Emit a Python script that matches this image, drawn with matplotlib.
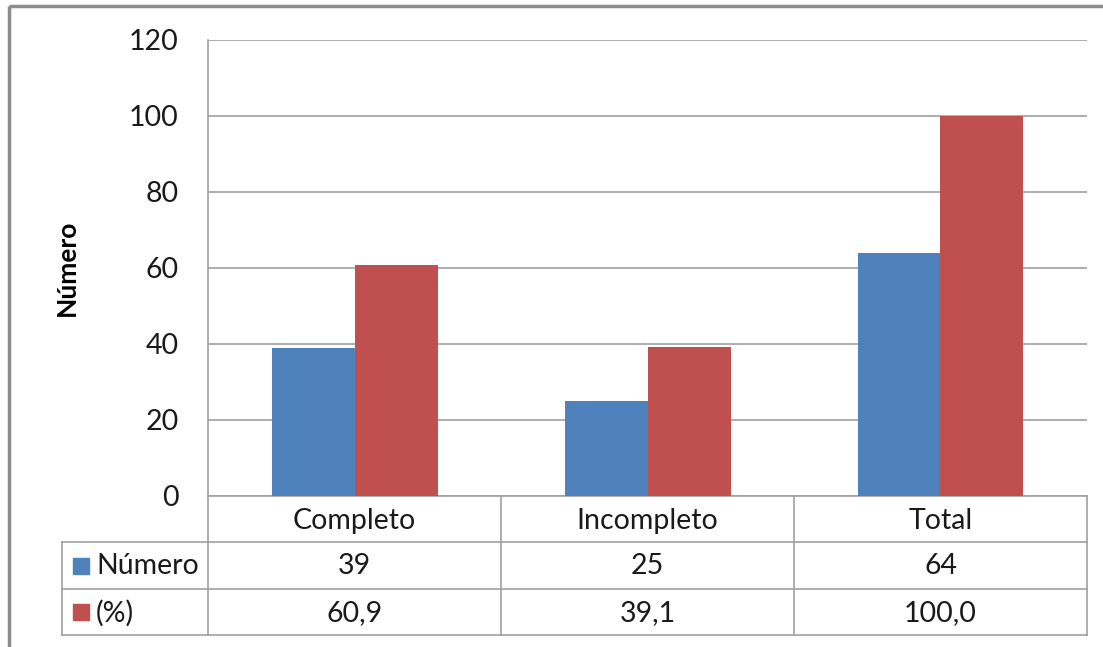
import matplotlib
matplotlib.use("Agg")
import matplotlib.pyplot as plt
from matplotlib.patches import Rectangle
import numpy as np

categories = ["Completo", "Incompleto", "Total"]
series_names = ["Número", "(%)"]
numero = [39, 25, 64]
porcentaje = [60.9, 39.1, 100.0]
numero_labels = ["39", "25", "64"]
porcentaje_labels = ["60,9", "39,1", "100,0"]
yticks = [0, 20, 40, 60, 80, 100, 120]

BLUE = "#4F81BD"
RED = "#C0504D"
GRID = "#A0A0A0"
TXT = "#1A1A1A"
FONT = ["Lato", "DejaVu Sans"]
plt.rcParams["font.family"] = FONT

W, H = 1103, 647
fig = plt.figure(figsize=(W / 100, H / 100), dpi=100)

# overlay axes in pixel coords (for table + border)
ov = fig.add_axes([0, 0, 1, 1], zorder=0)
ov.set_xlim(0, W)
ov.set_ylim(H, 0)
ov.axis("off")

L, R, T, B = 208, 1087, 40, 496
ax = fig.add_axes([L / W, (H - B) / H, (R - L) / W, (B - T) / H], zorder=2)
ax.patch.set_alpha(0)

x = np.arange(len(categories))
w = 83 / 293
ax.bar(x - w / 2, numero, w, color=BLUE, zorder=3)
ax.bar(x + w / 2, porcentaje, w, color=RED, zorder=3)
ax.set_xlim(-0.5, len(categories) - 0.5)
ax.set_ylim(0, 120)
ax.set_yticks(yticks)
ax.set_yticklabels([str(v) for v in yticks], fontsize=20.5, color=TXT)
ax.tick_params(axis="y", length=0, pad=21)
ax.set_xticks([])
ax.yaxis.grid(True, color=GRID, linewidth=1.2)
ax.set_axisbelow(True)
for s in ["top", "right", "bottom"]:
    ax.spines[s].set_visible(False)
ax.spines["left"].set_color(GRID)
ax.spines["left"].set_linewidth(1.2)
ax.set_ylabel("Número", fontsize=19, fontweight="bold", labelpad=36, color="#000000")

# data table
TL = 62
col_edges = [L + i * (R - L) / 3 for i in range(4)]
row_edges = [B, 542, 589, 635]
lc = GRID
lw = 1.2
# vertical lines
ov.plot([L, L], [B, row_edges[-1]], color=lc, lw=lw)
for xe in col_edges[1:]:
    ov.plot([xe, xe], [B, row_edges[-1]], color=lc, lw=lw)
ov.plot([TL, TL], [row_edges[1], row_edges[-1]], color=lc, lw=lw)
# horizontal lines
ov.plot([L, R], [B, B], color=lc, lw=lw)
for ye in row_edges[1:]:
    ov.plot([TL, R], [ye, ye], color=lc, lw=lw)

fs = 20.5
for i, c in enumerate(categories):
    cx = (col_edges[i] + col_edges[i + 1]) / 2
    ov.text(cx, (row_edges[0] + row_edges[1]) / 2 + 2, c, ha="center", va="center", fontsize=fs, color=TXT)
    ov.text(cx, (row_edges[1] + row_edges[2]) / 2 + 1, numero_labels[i], ha="center", va="center", fontsize=fs, color=TXT)
    ov.text(cx, (row_edges[2] + row_edges[3]) / 2 + 1, porcentaje_labels[i], ha="center", va="center", fontsize=fs, color=TXT)

for j, (name, col) in enumerate(zip(series_names, [BLUE, RED])):
    yc = (row_edges[j + 1] + row_edges[j + 2]) / 2
    ov.add_patch(Rectangle((73, yc - 8), 16, 16, color=col))
    ov.text(96, yc + 1, name, ha="left", va="center", fontsize=fs, color=TXT)

# outer border of chart area
ov.add_patch(Rectangle((9, 6), W + 20, H + 20, fill=False, edgecolor="#8C8C8C", lw=2.5))

fig.savefig("out.png", dpi=100)
